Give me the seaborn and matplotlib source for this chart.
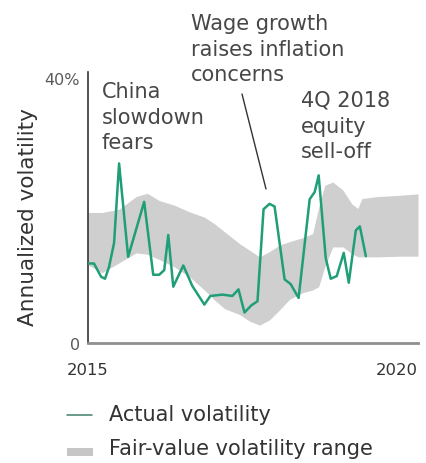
import matplotlib
matplotlib.use("Agg")
import matplotlib.pyplot as plt
from matplotlib.lines import Line2D
from matplotlib.patches import Rectangle
import seaborn as sns
import pandas as pd

# Actual (realized) annualized volatility, % (dates as decimal years)
actual_date = [2015.000, 2015.091, 2015.198, 2015.258, 2015.319, 2015.395, 2015.471,
               2015.608, 2015.851, 2015.988, 2016.079, 2016.155, 2016.216, 2016.292,
               2016.444, 2016.581, 2016.763, 2016.854, 2017.036, 2017.188, 2017.280,
               2017.371, 2017.477, 2017.568, 2017.660, 2017.751, 2017.827, 2017.979,
               2018.070, 2018.191, 2018.359, 2018.435, 2018.495, 2018.602, 2018.678,
               2018.769, 2018.875, 2018.951, 2019.058, 2019.119, 2019.210]
actual_vol = [12.0, 12.0, 10.0, 9.7, 11.5, 15.1, 27.1,
              13.0, 21.3, 10.3, 10.3, 11.0, 16.3, 8.5,
              11.7, 8.6, 5.8, 7.1, 7.3, 7.1, 8.1,
              4.6, 5.7, 6.3, 20.2, 21.0, 20.6, 9.6,
              8.9, 6.8, 21.7, 22.8, 25.3, 12.8, 9.7,
              10.1, 13.6, 9.1, 17.0, 17.6, 13.1]

# Fair-value volatility range, %
range_date = [2015.000, 2015.213, 2015.471, 2015.729, 2015.897, 2016.079, 2016.307,
              2016.535, 2016.763, 2016.915, 2017.067, 2017.295, 2017.447, 2017.599,
              2017.751, 2017.903, 2018.055, 2018.252, 2018.404, 2018.495, 2018.587,
              2018.708, 2018.860, 2018.997, 2019.088, 2019.149, 2019.377, 2019.726,
              2020.000]
range_high = [19.7, 19.7, 20.2, 22.1, 22.6, 21.5, 20.8,
              19.8, 19.0, 18.0, 16.8, 15.0, 14.0, 13.0,
              13.8, 14.8, 15.3, 15.9, 16.5, 20.5, 23.8,
              24.3, 23.1, 21.0, 20.3, 21.8, 22.1, 22.3,
              22.5]
range_low = [11.8, 10.6, 12.1, 13.6, 13.4, 12.6, 11.5,
             10.0, 8.0, 6.5, 5.2, 4.3, 3.3, 2.7,
             3.5, 5.0, 6.6, 7.6, 8.0, 8.5, 11.5,
             14.5, 14.5, 13.5, 13.0, 13.0, 13.0, 13.1,
             13.1]

x_ticks = [2015, 2020]
x_tick_labels = ["2015", "2020"]
y_ticks = [0, 40]
y_tick_labels = ["0", "40%"]

annotations = [
    ("China\nslowdown\nfears", (102, 82)),
    ("Wage growth\nraises inflation\nconcerns", (191, 14)),
    ("4Q 2018\nequity\nsell-off", (301, 91)),
]
legend_labels = ["Actual volatility", "Fair-value volatility range"]

GREEN = "#1f9e77"
BAND = "#cfcfcf"
TEXT = "#333333"
NOTE = "#474747"

sns.set_style("white")
plt.rcParams["font.family"] = ["DejaVu Sans"]

W, H = 426, 464
fig = plt.figure(figsize=(W / 100, H / 100), dpi=100)
ax = fig.add_axes([88 / W, 1 - 344 / H, (418 - 88) / W, (344 - 73) / H])

ax.fill_between(range_date, range_low, range_high, color=BAND, linewidth=0, zorder=1)
df = pd.DataFrame({"date": actual_date, "vol": actual_vol})
sns.lineplot(data=df, x="date", y="vol", ax=ax, color=GREEN, linewidth=1.8, zorder=3)

ax.set_xlim(2015, 2020)
ax.set_ylim(0, 40.9)
ax.set_xlabel("")
ax.set_ylabel("")

ax.set_yticks(y_ticks)
ax.set_yticklabels(y_tick_labels, fontsize=11.5, color="#5a5a5a")
ax.set_xticks(x_ticks)
ax.set_xticklabels(x_tick_labels, fontsize=11.8, color=TEXT)
xl = ax.get_xticklabels()
xl[0].set_ha("center")
xl[1].set_ha("right")
ax.tick_params(axis="x", length=0, pad=14)
ax.tick_params(axis="y", length=0, pad=6)

for side in ("top", "right"):
    ax.spines[side].set_visible(False)
ax.spines["left"].set_color("#333333")
ax.spines["left"].set_linewidth(1.2)
ax.spines["bottom"].set_color("#8f8f8f")
ax.spines["bottom"].set_linewidth(2.0)

fig.text(28 / W, 1 - 217 / H, "Annualized volatility", rotation=90,
         ha="center", va="center", fontsize=15.5, color=TEXT)

for text, (px, py) in annotations:
    fig.text(px / W, 1 - py / H, text, ha="left", va="top", fontsize=15,
             color=NOTE, linespacing=1.35)

# leader line for the wage-growth note
fig.add_artist(Line2D([242 / W, 266 / W], [1 - 95 / H, 1 - 190 / H],
                      color="#333333", linewidth=1.0))

# legend: line swatch, shaded swatch and their labels
fig.add_artist(Line2D([67 / W, 92 / W], [1 - 416 / H, 1 - 416 / H],
                      color="#3f7f6c", linewidth=1.1))
fig.add_artist(Rectangle((67 / W, 1 - 457 / H), 26 / W, 8 / H,
                         transform=fig.transFigure, facecolor="#c6c6c6",
                         edgecolor="none"))
fig.text(109 / W, 1 - 421 / H, legend_labels[0], ha="left", va="baseline",
         fontsize=15, color=TEXT)
fig.text(109 / W, 1 - 455 / H, legend_labels[1], ha="left", va="baseline",
         fontsize=15, color=TEXT)

fig.savefig("out.png", dpi=100, facecolor="white")
